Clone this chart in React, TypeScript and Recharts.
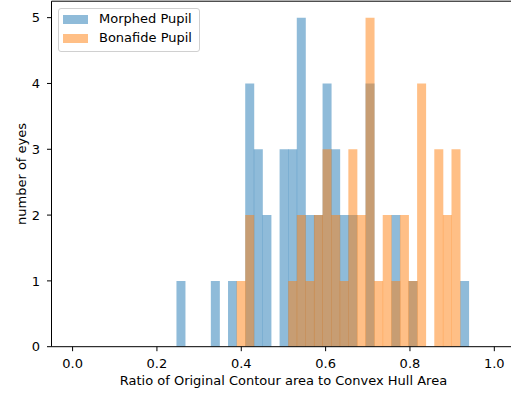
import React from 'react';
import {
  ComposedChart, Bar, XAxis, YAxis, ReferenceLine,
} from 'recharts';

// histogram bins (shared by both series)
const BIN_START = 0.2463;
const BIN_WIDTH = 0.02038;

const morphedCounts = [1, 0, 0, 0, 1, 0, 1, 0, 4, 3, 2, 0, 3, 3, 5, 2, 2, 4, 3, 2, 2, 0, 4, 0, 0, 2, 0, 1, 0, 0, 0, 0, 0, 1];
const bonafideCounts = [0, 0, 0, 0, 0, 0, 0, 1, 2, 0, 0, 0, 0, 1, 2, 1, 2, 3, 2, 1, 3, 2, 5, 1, 2, 1, 2, 1, 4, 0, 3, 2, 3, 0];

const xTicks = [0, 0.2, 0.4, 0.6, 0.8, 1.0];
const yTicks = [0, 1, 2, 3, 4, 5];

const seriesNames = ['Morphed Pupil', 'Bonafide Pupil'];

const data = morphedCounts.map((m, i) => ({
  x: BIN_START + (i + 0.5) * BIN_WIDTH,
  morphed: m,
  bonafide: bonafideCounts[i],
}));

const FONT = '"DejaVu Sans", sans-serif';
const FS = 13;
const BLUE = '#1f77b4';
const ORANGE = '#ff7f0e';

const tickStyle = { fill: '#000', fontSize: FS, fontFamily: FONT };

const LegendBox = () => (
  <div
    style={{
      position: 'absolute', left: 58, top: 8, width: 140, height: 42,
      border: '1px solid #d0d0d0', borderRadius: 3, background: 'rgba(255,255,255,0.8)',
      fontFamily: FONT, fontSize: FS, color: '#000',
    }}
  >
    {[BLUE, ORANGE].map((c, i) => (
      <div key={i} style={{ position: 'absolute', left: 4, top: 5 + i * 19, height: 10, display: 'flex', alignItems: 'center' }}>
        <div style={{ width: 25, height: 9, background: c, opacity: 0.5 }} />
        <span style={{ marginLeft: 11, whiteSpace: 'nowrap', lineHeight: '10px' }}>{seriesNames[i]}</span>
      </div>
    ))}
  </div>
);

const App = () => (
  <div style={{ position: 'absolute', left: 0, top: 0, width: 511, height: 393, overflow: 'hidden', background: '#fff' }}>
    <ComposedChart
      width={516}
      height={393}
      data={data}
      margin={{ top: 1.2, right: 0.6, bottom: 0, left: 0 }}
      barCategoryGap={0}
      barGap={0}
    >
      <XAxis xAxisId="b" dataKey="x" type="number" domain={[-0.05, 1.05]} hide height={0} allowDataOverflow />
      <XAxis
        xAxisId="m"
        dataKey="x"
        type="number"
        domain={[-0.05, 1.05]}
        ticks={xTicks}
        tickFormatter={(v: number) => v.toFixed(1)}
        tick={tickStyle}
        tickSize={4.5}
        tickMargin={8}
        height={46.3}
        stroke="#000"
        allowDataOverflow
        label={{ value: 'Ratio of Original Contour area to Convex Hull Area', position: 'insideBottom', offset: 8.5, fill: '#000', fontSize: FS, fontFamily: FONT }}
      />
      <YAxis
        type="number"
        domain={[0, 5.25]}
        ticks={yTicks}
        tick={tickStyle}
        tickSize={4.5}
        tickMargin={7}
        width={51.5}
        stroke="#000"
        allowDataOverflow
        label={{ value: 'number of eyes', angle: -90, position: 'insideLeft', offset: 21, fill: '#000', fontSize: FS, fontFamily: FONT, style: { textAnchor: 'middle' } }}
      />
      <ReferenceLine xAxisId="m" y={5.25} stroke="#000" />
      <Bar xAxisId="m" dataKey="morphed" name={seriesNames[0]} fill={BLUE} fillOpacity={0.5} isAnimationActive={false} />
      <Bar xAxisId="b" dataKey="bonafide" name={seriesNames[1]} fill={ORANGE} fillOpacity={0.5} isAnimationActive={false} />
    </ComposedChart>
    <LegendBox />
  </div>
);

export default App;
